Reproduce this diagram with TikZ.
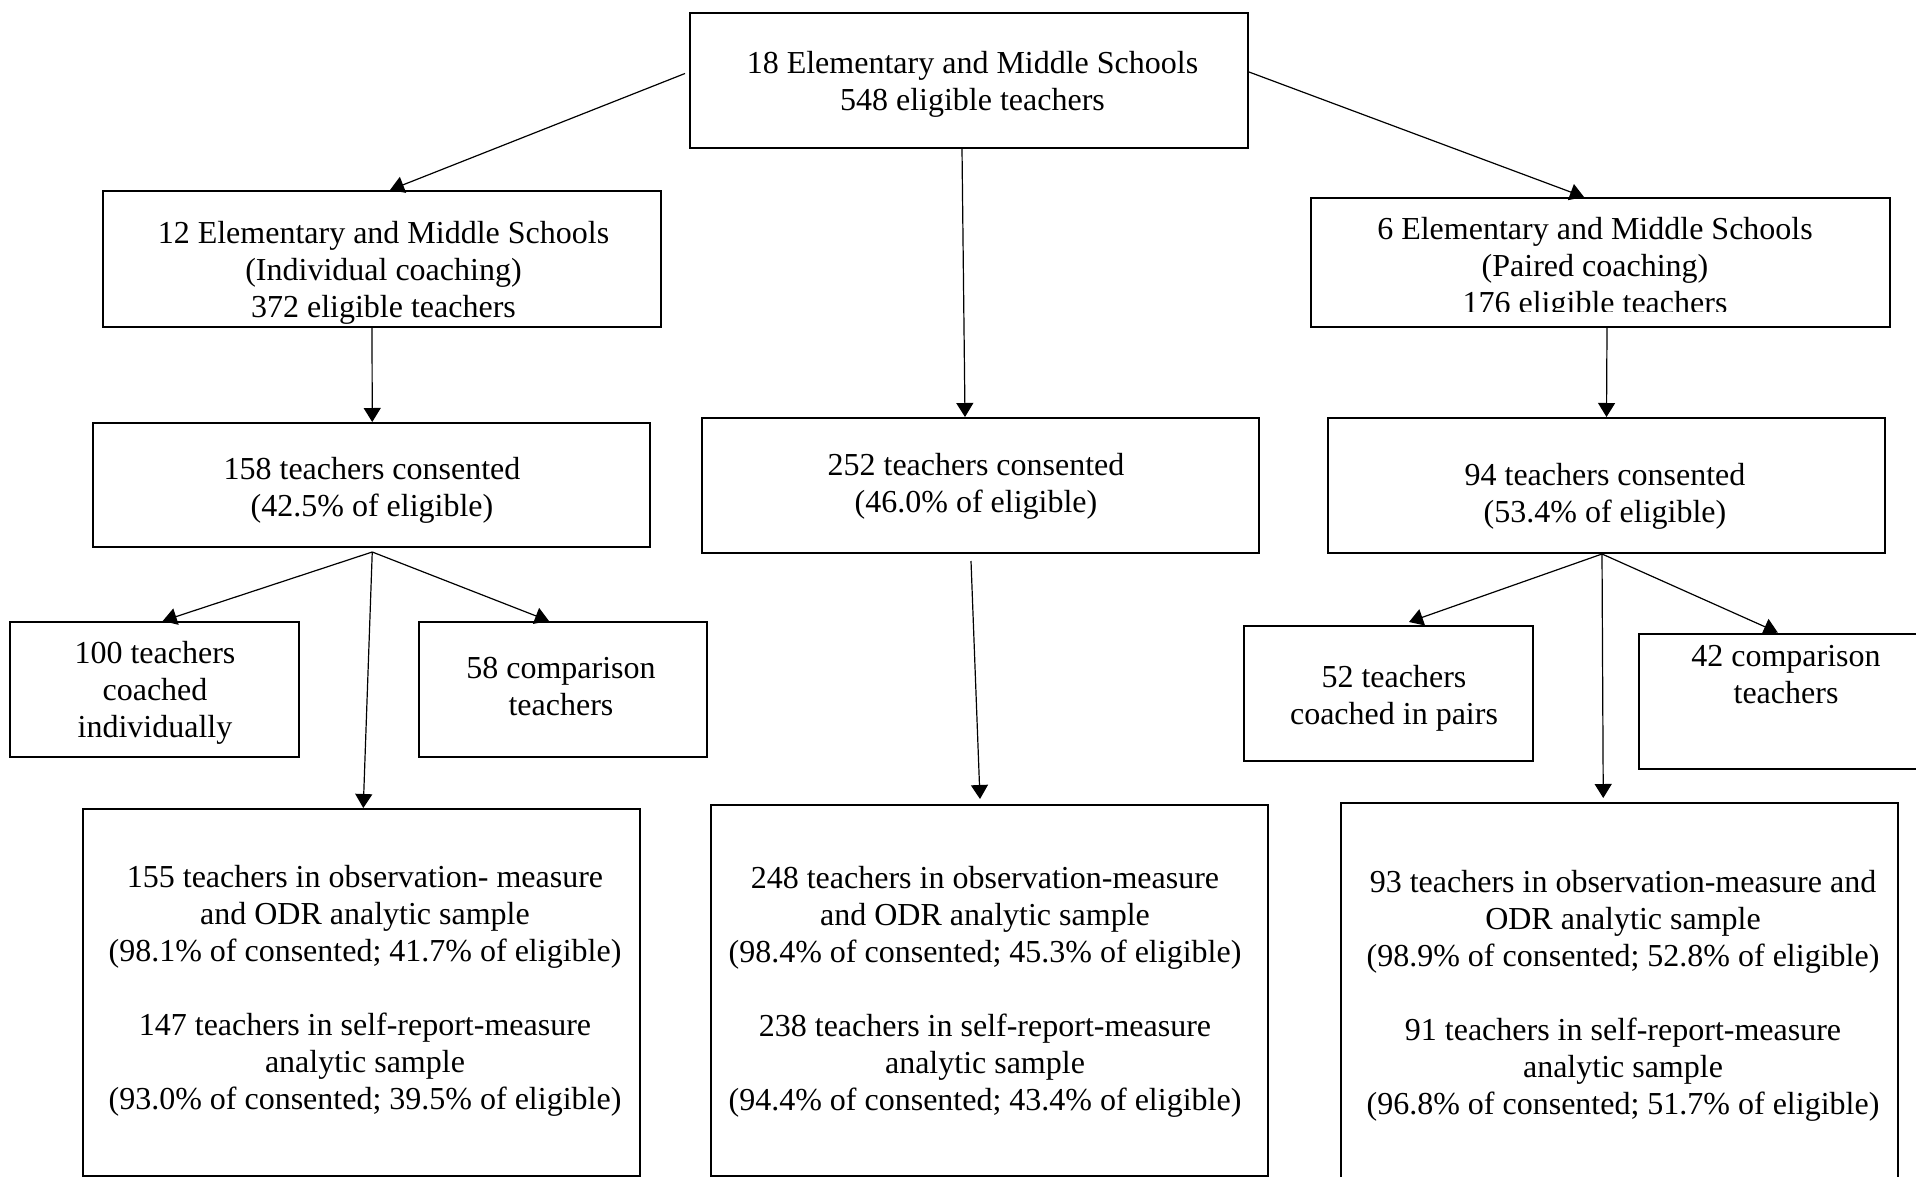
\documentclass[tikz,border=0pt]{standalone}
\usepackage{fontspec}
\setmainfont{Liberation Serif}
\usetikzlibrary{arrows.meta}
\begin{document}
\begin{tikzpicture}[x=0.5pt,y=-0.5pt,
  box/.style={draw,line width=1pt,inner sep=0pt},
  txt/.style={align=center,inner sep=0pt,font=\fontsize{16}{18.5}\selectfont},
  arr/.style={-{Triangle[length=7pt,width=8.5pt]},line width=0.6pt}]
\useasboundingbox (0,0) rectangle (1916,1177);
\clip (0,0) rectangle (1916,1177);
% boxes
\node[box,minimum width=279pt,minimum height=67.5pt] (top) at (969,80.5) {};
\node[box,minimum width=279pt,minimum height=68pt] (A1) at (382,259) {};
\node[box,minimum width=289.5pt,minimum height=64.5pt] (A2) at (1600.5,262.5) {};
\node[box,minimum width=278.75pt,minimum height=62pt] (B1) at (371.25,485) {};
\node[box,minimum width=278.5pt,minimum height=67.5pt] (B2) at (980.5,485.5) {};
\node[box,minimum width=278.5pt,minimum height=67.5pt] (B3) at (1606.5,485.5) {};
\node[box,minimum width=144.5pt,minimum height=67.5pt] (C1) at (154.7,689.5) {};
\node[box,minimum width=144pt,minimum height=67.5pt] (C2) at (563,689.5) {};
\node[box,minimum width=144.5pt,minimum height=67.5pt] (C3) at (1388.5,693.5) {};
\node[box,minimum width=144.75pt,minimum height=67.5pt] (C4) at (1783.25,701) {};
\node[box,minimum width=278.75pt,minimum height=183.25pt] (D1) at (361.25,992.25) {};
\node[box,minimum width=278.5pt,minimum height=185.25pt] (D2) at (989,990.25) {};
\node[box,minimum width=278.75pt,minimum height=193.5pt] (D3) at (1619.25,996.5) {};
% texts
\node[txt] (t0) at (972.5,84.5) {18 Elementary and Middle Schools\\548 eligible teachers};
\node[txt] (tA1) at (383.5,272.5) {12 Elementary and Middle Schools\\(Individual coaching)\\372 eligible teachers};
\begin{scope}
\clip (1311,198) rectangle (1890,311.5);
\node[txt] (tA2) at (1595,269) {6 Elementary and Middle Schools\\(Paired coaching)\\176 eligible teachers};
\end{scope}
\node[txt] (tB1) at (372,490) {158 teachers consented\\(42.5\% of eligible)};
\node[txt] (tB2) at (976,486.5) {252 teachers consented\\(46.0\% of eligible)};
\node[txt] (tB3) at (1605,496) {94 teachers consented\\(53.4\% of eligible)};
\node[txt] (tC1) at (155,693) {100 teachers\\coached\\individually};
\node[txt] (tC2) at (561,687) {58 comparison\\teachers};
\node[txt] (tC3) at (1394,698) {52 teachers\\coached in pairs};
\node[txt] (tC4) at (1786,675) {42 comparison\\teachers};
\node[txt] (tD1) at (365,991) {155 teachers in observation- measure\\and ODR analytic sample\\(98.1\% of consented; 41.7\% of eligible)\\[18.5pt]147 teachers in self-report-measure\\analytic sample\\(93.0\% of consented; 39.5\% of eligible)};
\node[txt] (tD2) at (985,992) {248 teachers in observation-measure\\and ODR analytic sample\\(98.4\% of consented; 45.3\% of eligible)\\[18.5pt]238 teachers in self-report-measure\\analytic sample\\(94.4\% of consented; 43.4\% of eligible)};
\node[txt] (tD3) at (1623,996) {93 teachers in observation-measure and\\ODR analytic sample\\(98.9\% of consented; 52.8\% of eligible)\\[18.5pt]91 teachers in self-report-measure\\analytic sample\\(96.8\% of consented; 51.7\% of eligible)};
% connectors
\draw[arr] ([shift={(-4,-7)}]top.west) -- ([shift={(8,0)}]A1.north);
\draw[arr] ([shift={(-7,0)}]top.south) -- ([shift={(-15.5,0)}]B2.north);
\draw[arr] ([shift={(0,-8.5)}]top.east) -- ([shift={(-16.5,0)}]A2.north);
\draw[arr] ([shift={(-10,0)}]A1.south) -- ([shift={(1,0)}]B1.north);
\draw[arr] ([shift={(6.5,0)}]A2.south) -- (B3.north);
\coordinate (f1) at ([shift={(1,4)}]B1.south);
\draw[arr] (f1) -- ([shift={(8,0)}]C1.north);
\draw[arr] (f1) -- ([shift={(2,0)}]D1.north);
\draw[arr] (f1) -- ([shift={(-14,0)}]C2.north);
\draw[arr] ([shift={(-9.5,7)}]B2.south) -- ([shift={(-9,-5)}]D2.north);
\coordinate (f3) at ([shift={(-4.5,0)}]B3.south);
\draw[arr] (f3) -- ([shift={(20.5,-3)}]C3.north);
\draw[arr] (f3) -- ([shift={(-16,-4)}]D3.north);
\draw[arr] (f3) -- ([shift={(-5.5,0)}]C4.north);
\end{tikzpicture}
\end{document}
